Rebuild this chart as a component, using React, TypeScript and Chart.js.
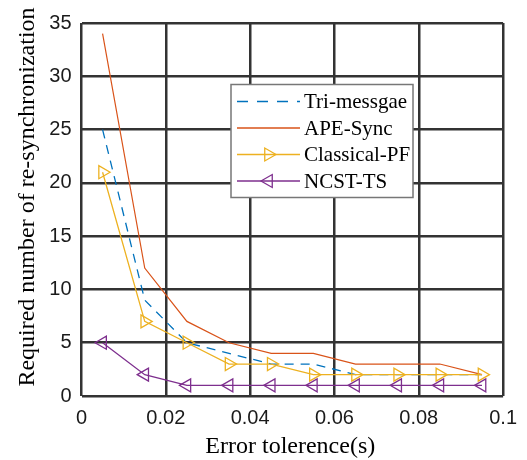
import React, { useEffect, useRef } from 'react';
import { Chart, registerables } from 'chart.js';

Chart.register(...registerables);

const xValues = [0.005, 0.015, 0.025, 0.035, 0.045, 0.055, 0.065, 0.075, 0.085, 0.095];
const triMessgae = [25, 9, 5, 4, 3, 3, 2, 2, 2, 2];
const apeSync = [34, 12, 7, 5, 4, 4, 3, 3, 3, 2];
const classicalPF = [21, 7, 5, 3, 3, 2, 2, 2, 2, 2];
const ncstTS = [5, 2, 1, 1, 1, 1, 1, 1, 1, 1];

const seriesNames = ['Tri-messgae', 'APE-Sync', 'Classical-PF', 'NCST-TS'];
const xTickValues = [0, 0.02, 0.04, 0.06, 0.08, 0.1];
const xTickLabels = ['0', '0.02', '0.04', '0.06', '0.08', '0.1'];
const yTickValues = [0, 5, 10, 15, 20, 25, 30, 35];
const xTitle = 'Error tolerence(s)';
const yTitle = 'Required number of re-synchronization';

const BLUE = '#0072BD';
const ORANGE = '#D95319';
const YELLOW = '#EDB120';
const PURPLE = '#7E2F8E';
const GRID = '#333333';
const SERIF = '"Liberation Serif", "Times New Roman", serif';
const SANS = '"Liberation Sans", Arial, sans-serif';

function drawTriangle(ctx: CanvasRenderingContext2D, x: number, y: number, r: number, dir: number) {
  ctx.beginPath();
  for (let i = 0; i < 3; i++) {
    const a = dir + (i * 2 * Math.PI) / 3;
    const px = x + Math.cos(a) * r;
    const py = y + Math.sin(a) * r;
    if (i === 0) ctx.moveTo(px, py);
    else ctx.lineTo(px, py);
  }
  ctx.closePath();
  ctx.stroke();
}

const overlayPlugin = {
  id: 'overlay',
  afterDraw(chart: any) {
    const ctx: CanvasRenderingContext2D = chart.ctx;
    const ca = chart.chartArea;
    ctx.save();
    // titles
    ctx.fillStyle = '#000';
    ctx.font = `24px ${SERIF}`;
    ctx.textAlign = 'center';
    ctx.textBaseline = 'middle';
    ctx.fillText(xTitle, (ca.left + ca.right) / 2 - 2, 447);
    ctx.save();
    ctx.translate(28, 197);
    ctx.rotate(-Math.PI / 2);
    ctx.fillText(yTitle, 0, 0);
    ctx.restore();

    // legend box
    const bx = ca.left + 149.5;
    const by = ca.top + 61.5;
    const bw = 182;
    const bh = 113;
    ctx.fillStyle = '#ffffff';
    ctx.fillRect(bx, by, bw, bh);
    ctx.strokeStyle = '#777777';
    ctx.lineWidth = 1.5;
    ctx.strokeRect(bx, by, bw, bh);

    const colors = [BLUE, ORANGE, YELLOW, PURPLE];
    const rowY = [by + 17, by + 43.5, by + 70, by + 96.5];
    const lx0 = bx + 6;
    const lx1 = bx + 69;
    ctx.font = `21px ${SERIF}`;
    ctx.textAlign = 'left';
    ctx.textBaseline = 'middle';
    for (let i = 0; i < 4; i++) {
      ctx.strokeStyle = colors[i];
      ctx.lineWidth = 1.3;
      ctx.setLineDash(i === 0 ? [11, 9] : []);
      ctx.beginPath();
      ctx.moveTo(lx0, rowY[i]);
      ctx.lineTo(lx1, rowY[i]);
      ctx.stroke();
      ctx.setLineDash([]);
      if (i === 2) drawTriangle(ctx, (lx0 + lx1) / 2, rowY[i], 7.5, 0);
      if (i === 3) drawTriangle(ctx, (lx0 + lx1) / 2, rowY[i], 7.5, Math.PI);
      ctx.fillStyle = '#000';
      ctx.fillText(seriesNames[i], lx1 + 4, rowY[i] + 1);
    }
    ctx.restore();
  },
};

export default function App() {
  const canvasRef = useRef<HTMLCanvasElement | null>(null);

  useEffect(() => {
    document.body.style.margin = '0';
    const canvas = canvasRef.current;
    if (!canvas) return;
    const mk = (vals: number[]) => xValues.map((x, i) => ({ x, y: vals[i] }));
    const chart = new Chart(canvas, {
      type: 'line',
      data: {
        datasets: [
          {
            label: seriesNames[0],
            data: mk(triMessgae),
            borderColor: BLUE,
            borderWidth: 1.3,
            borderDash: [9, 7],
            pointRadius: 0,
            fill: false,
            order: 4,
          },
          {
            label: seriesNames[1],
            data: mk(apeSync),
            borderColor: ORANGE,
            borderWidth: 1.2,
            pointRadius: 0,
            fill: false,
            order: 3,
          },
          {
            label: seriesNames[2],
            data: mk(classicalPF),
            borderColor: YELLOW,
            borderWidth: 1.3,
            pointStyle: 'triangle',
            rotation: 90,
            pointRadius: 7.5,
            pointBorderWidth: 1.3,
            pointBorderColor: YELLOW,
            pointBackgroundColor: 'rgba(0,0,0,0)',
            fill: false,
            order: 2,
          },
          {
            label: seriesNames[3],
            data: mk(ncstTS),
            borderColor: PURPLE,
            borderWidth: 1.3,
            pointStyle: 'triangle',
            rotation: -90,
            pointRadius: 7.5,
            pointBorderWidth: 1.3,
            pointBorderColor: PURPLE,
            pointBackgroundColor: 'rgba(0,0,0,0)',
            fill: false,
            order: 1,
          },
        ],
      },
      options: {
        responsive: false,
        animation: false,
        events: [],
        layout: { padding: { top: 23, right: 11, left: 0, bottom: 0 } },
        plugins: {
          legend: { display: false },
          tooltip: { enabled: false },
          title: { display: false },
        },
        elements: { line: { tension: 0 } },
        scales: {
          x: {
            type: 'linear',
            min: 0,
            max: 0.1,
            afterBuildTicks: (scale: any) => {
              scale.ticks = xTickValues.map((v) => ({ value: v }));
            },
            afterFit: (scale: any) => {
              scale.height = 64;
            },
            ticks: {
              color: '#1a1a1a',
              font: { family: SANS, size: 20 },
              padding: 10,
              maxRotation: 0,
              autoSkip: false,
              callback: (v: any) => {
                const idx = xTickValues.findIndex((t) => Math.abs(t - Number(v)) < 1e-9);
                return idx >= 0 ? xTickLabels[idx] : '';
              },
            },
            grid: { color: GRID, lineWidth: 2.5, drawTicks: false },
            border: { display: false },
          },
          y: {
            type: 'linear',
            min: 0,
            max: 35,
            afterBuildTicks: (scale: any) => {
              scale.ticks = yTickValues.map((v) => ({ value: v }));
            },
            afterFit: (scale: any) => {
              scale.width = 81.5;
            },
            ticks: {
              color: '#1a1a1a',
              font: { family: SANS, size: 20 },
              padding: 10,
              autoSkip: false,
              callback: (v: any) => String(v),
            },
            grid: { color: GRID, lineWidth: 2.5, drawTicks: false },
            border: { display: false },
          },
        },
      },
      plugins: [overlayPlugin],
    });
    return () => chart.destroy();
  }, []);

  return (
    <div style={{ position: 'absolute', left: 0, top: 0, width: 527, height: 460, background: '#fff' }}>
      <canvas ref={canvasRef} width={527} height={460} style={{ width: 527, height: 460 }} />
    </div>
  );
}
